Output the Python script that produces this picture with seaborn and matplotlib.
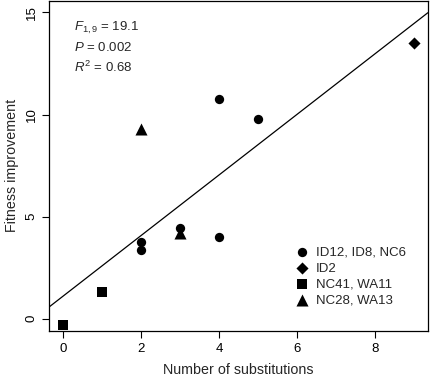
import numpy as np
import pandas as pd
import matplotlib
matplotlib.use("Agg")
import matplotlib.pyplot as plt
import seaborn as sns

# Data
substitutions = [2, 2, 3, 4, 4, 5, 9, 0, 1, 2, 3]
fitness = [3.75, 3.35, 4.45, 4.0, 10.75, 9.8, 13.5, -0.3, 1.33, 9.3, 4.2]
groups = ["ID12, ID8, NC6"] * 6 + ["ID2"] + ["NC41, WA11"] * 2 + ["NC28, WA13"] * 2
group_order = ["ID12, ID8, NC6", "ID2", "NC41, WA11", "NC28, WA13"]
stats_text = ["$F_{1,9}$ = 19.1", "$P$ = 0.002", "$R^2$ = 0.68"]

sns.set_theme(style="ticks")
plt.rcParams["font.family"] = ["Liberation Sans", "DejaVu Sans"]
plt.rcParams["mathtext.fontset"] = "custom"
plt.rcParams["mathtext.rm"] = "Liberation Sans"
plt.rcParams["mathtext.it"] = "Liberation Sans:italic"

df = pd.DataFrame({"x": substitutions, "y": fitness, "g": groups})

fig = plt.figure(figsize=(4.3, 3.77), dpi=100)
ax = fig.add_axes([0.115, 0.122, 0.88, 0.876])

markers = {"ID12, ID8, NC6": "o", "ID2": "D", "NC41, WA11": "s", "NC28, WA13": "^"}
sizes = {"ID12, ID8, NC6": 45, "ID2": 38, "NC41, WA11": 60, "NC28, WA13": 75}
for g in group_order:
    sub = df[df.g == g]
    sns.scatterplot(data=sub, x="x", y="y", marker=markers[g], color="black",
                    s=sizes[g], edgecolor="black", linewidth=0, ax=ax, label=g, zorder=3)

m, b = np.polyfit(substitutions, fitness, 1)
ax.axline((0, b), slope=m, color="black", lw=0.9, zorder=2)

ax.set_xlim(-0.35, 9.35)
ax.set_ylim(-0.6, 15.57)
ax.set_xticks([0, 2, 4, 6, 8])
ax.set_yticks([0, 5, 10, 15])
ax.tick_params(axis="both", direction="out", length=5, width=0.8, labelsize=9.5, colors="black")
for lab in ax.get_yticklabels():
    lab.set_rotation(90)
    lab.set_va("center")
for s in ax.spines.values():
    s.set_color("black")
    s.set_linewidth(0.9)

ax.set_xlabel("Number of substitutions", fontsize=10.3, labelpad=6)
ax.set_ylabel("Fitness improvement", fontsize=10.3, labelpad=5)

for i, t in enumerate(stats_text):
    ax.text(0.064, 0.918 - i * 0.0606, t, transform=ax.transAxes, fontsize=9.5,
            va="center", ha="left")

leg = ax.legend(loc="lower right", bbox_to_anchor=(0.955, 0.057), frameon=False,
                fontsize=9.5, handletextpad=0.4, labelspacing=0.3, borderaxespad=0,
                handlelength=1.2)

fig.savefig("out.png", dpi=100)
